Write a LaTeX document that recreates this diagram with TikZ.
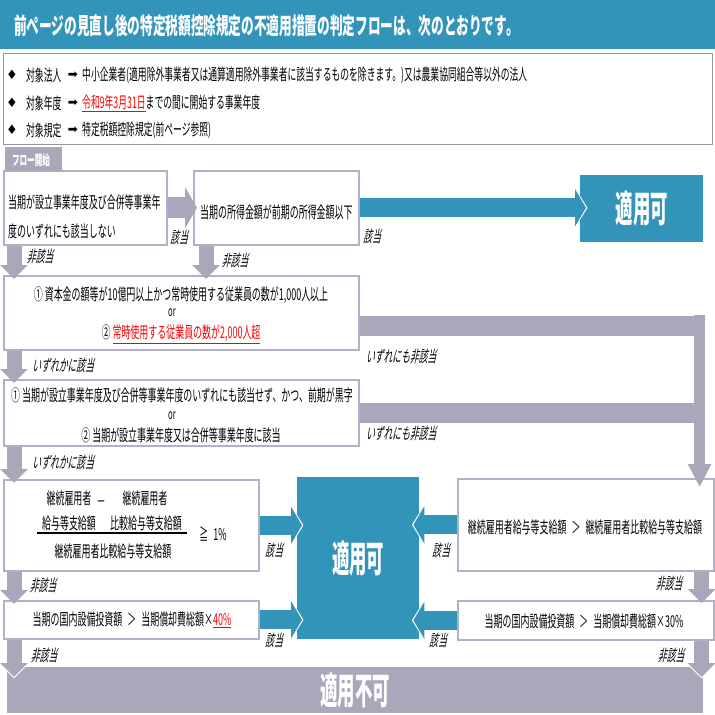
\documentclass[tikz,border=0pt]{standalone}
\usepackage{fontspec}
\setmainfont{Noto Sans CJK JP}[FakeStretch=0.55]
\newfontfamily\slantjp{Noto Sans CJK JP}[FakeStretch=0.55,FakeSlant=0.22]
\newfontfamily\widejp{Noto Sans CJK JP}[FakeStretch=0.47]
\newfontfamily\dejavu{DejaVu Sans}
\definecolor{taxblue}{RGB}{51,148,186}
\definecolor{flowgray}{RGB}{170,167,187}
\definecolor{boxgray}{RGB}{178,176,198}
\definecolor{condgray}{RGB}{150,150,158}
\usetikzlibrary{arrows.meta,calc}
\newcommand{\gtsign}{\hspace{5pt}＞\hspace{5pt}}

\begin{document}
\begin{tikzpicture}[x=1pt,y=-1pt,
  flowbox/.style={draw=boxgray,line width=1.6pt,anchor=north west,inner sep=0pt},
  okbox/.style={fill=taxblue,anchor=north west,inner sep=0pt,text=white,font=\widejp\bfseries\fontsize{37}{40}\selectfont},
  ngbox/.style={fill=flowgray,anchor=north west,inner sep=0pt,text=white,font=\widejp\bfseries\fontsize{37}{40}\selectfont},
  txt/.style={inner sep=0pt,font=\fontsize{16.3}{20}\selectfont},
  ctxt/.style={inner sep=0pt,font=\fontsize{16}{18}\selectfont},
  lbl/.style={inner sep=0pt,font=\slantjp\fontsize{16}{18}\selectfont},
  gdown/.style={draw=flowgray,line width=15pt,-{Triangle[length=14pt,width=27pt]}},
  gright/.style={draw=flowgray,line width=21pt,-{Triangle[length=12pt,width=41pt]}},
  gbar/.style={draw=flowgray,line width=20pt},
  gvert/.style={draw=flowgray,line width=11pt,-{Triangle[length=23pt,width=22pt]}},
  bright/.style={draw=taxblue,line width=19pt,-{Triangle[length=11pt,width=37pt]}},
  ghalo/.style={preaction={draw=white,line width=17pt,shorten >=-1.5pt,-{Triangle[length=16pt,width=31pt]}}},
  bhalo/.style={preaction={draw=white,line width=21pt,shorten >=-1.5pt,-{Triangle[length=13pt,width=41pt]}}}]
  \useasboundingbox (0,0) rectangle (715,715);

  %% header
  \node[fill=taxblue,anchor=north west,inner sep=0pt,minimum width=715,minimum height=49] (head) at (0,0) {};
  \node[anchor=west,inner sep=0pt,text=white,font=\bfseries\fontsize{23}{26}\selectfont] (title) at (14,26)
    {前ページの見直し後の特定税額控除規定の不適用措置の判定フローは、次のとおりです。};

  %% scope of the rule
  \node[flowbox,draw=condgray,line width=1.2pt,minimum width=709,minimum height=91] (cond) at (3,53) {};
  \foreach \y/\key/\val [count=\i] in {
      75/対象法人/{中小企業者(適用除外事業者又は通算適用除外事業者に該当するものを除きます。)又は農業協同組合等以外の法人},
      103/対象年度/{\textcolor{red}{\underline{令和9年3月31日}}までの間に開始する事業年度},
      130/対象規定/{特定税額控除規定(前ページ参照)}}{
    \node[inner sep=0pt,font=\dejavu\fontsize{13}{14}\selectfont] (bul\i) at (12,\y) {♦};
    \node[ctxt,anchor=west] (key\i) at (26,\y) {\key};
    \node[inner sep=0pt,font=\dejavu\fontsize{12}{14}\selectfont] (arw\i) at (73,\y) {➡};
    \node[ctxt,anchor=west] (val\i) at (82,\y) {\val};
  }

  %% flow boxes
  \node[flowbox,minimum width=163,minimum height=74] (boxA) at (3,170) {};
  \node[fill=flowgray,anchor=north west,inner sep=0pt,minimum width=57,minimum height=24] (tab) at (5,147) {};
  \node[inner sep=0pt,text=white,font=\bfseries\fontsize{13.8}{15}\selectfont] (tabtxt) at (31,160) {フロー開始};
  \node[flowbox,minimum width=165,minimum height=74] (boxB) at (193,170) {};
  \node[okbox,minimum width=123,minimum height=67] (okTop) at (580,175) {適用可};
  \node[flowbox,minimum width=355,minimum height=74] (boxC) at (3,275) {};
  \node[flowbox,minimum width=355,minimum height=66] (boxD) at (3,379) {};
  \node[flowbox,minimum width=255,minimum height=91] (boxE) at (3,479) {};
  \node[okbox,minimum width=122,minimum height=162] (okMid) at (297,477) {適用可};
  \node[flowbox,minimum width=256,minimum height=92] (boxF) at (457,478) {};
  \node[flowbox,minimum width=255,minimum height=38] (boxG) at (3,600) {};
  \node[flowbox,minimum width=256,minimum height=39] (boxH) at (457,600) {};
  \node[ngbox,minimum width=696,minimum height=46] (ng) at (7,667) {適用不可};

  %% box texts
  \node[txt,anchor=west,align=left,font=\fontsize{16.3}{29}\selectfont] (tA) at (8,217) {当期が設立事業年度及び合併等事業年\\度のいずれにも該当しない};
  \node[txt,anchor=west] (tB) at (200,212) {当期の所得金額が前期の所得金額以下};
  \node[txt] (tC1) at (181,295) {①\ 資本金の額等が10億円以上かつ常時使用する従業員の数が1,000人以上};
  \node[txt,font=\fontsize{14}{16}\selectfont] (tC2) at (172,313) {or};
  \node[txt] (tC3) at (181,334) {②\ \textcolor{red}{\underline{常時使用する従業員の数が2,000人超}}};
  \node[txt] (tD1) at (182,395) {①\ 当期が設立事業年度及び合併等事業年度のいずれにも該当せず、かつ、前期が黒字};
  \node[txt,font=\fontsize{14}{16}\selectfont] (tD2) at (172,416) {or};
  \node[txt] (tD3) at (181,435) {②\ 当期が設立事業年度又は合併等事業年度に該当};
  \node[txt] (eN1) at (69,498) {継続雇用者};
  \node[txt] (eN2) at (69,523) {給与等支給額};
  \node[txt] (eMinus) at (101,504) {－};
  \node[txt] (eN3) at (145,498) {継続雇用者};
  \node[txt] (eN4) at (146,523) {比較給与等支給額};
  \draw[line width=1.2pt] (37,533) -- (187,533);
  \node[txt] (eDen) at (113,551) {継続雇用者比較給与等支給額};
  \node[txt] (eRel) at (213,534) {≧\hspace{5pt}1\%};
  \node[txt] (tF) at (585,527) {継続雇用者給与等支給額\gtsign 継続雇用者比較給与等支給額};
  \node[txt] (tG) at (132,620) {当期の国内設備投資額\gtsign 当期償却費総額×\textcolor{red}{\underline{40\%}}};
  \node[txt] (tH) at (584,621) {当期の国内設備投資額\gtsign 当期償却費総額×30\%};

  %% connectors
  \draw[gright] (boxA.east) -- ($(boxB.west)+(4,0)$);
  \draw[bright,bhalo] (boxB.east) -- ($(boxB.east -| okTop.west)+(6,0)$);
  \draw[gdown] ($(boxA.south west)+(11,0)$) -- ($(boxC.north west)+(11,4)$);
  \draw[gdown] ($(boxB.south west)+(13,0)$) -- ($(boxB.south west |- boxC.north)+(13,4)$);
  \draw[gdown] ($(boxC.south west)+(11,0)$) -- ($(boxD.north west)+(11,4)$);
  \draw[gdown] ($(boxD.south west)+(11,0)$) -- ($(boxE.north west)+(11,4)$);
  \draw[gdown] ($(boxE.south west)+(11,0)$) -- ($(boxG.north west)+(11,4)$);
  \draw[gdown,ghalo] ($(boxG.south west)+(11,0)$) -- ($(boxG.south west |- ng.north)+(11,10)$);
  \draw[gdown] ($(boxF.south east)+(-13,0)$) -- ($(boxH.north east)+(-13,3)$);
  \draw[gdown,ghalo] ($(boxH.south east)+(-13,0)$) -- ($(boxH.south east |- ng.north)+(-13,10)$);
  \coordinate (jct) at ($(boxF.north east)+(-15,-163)$);
  \draw[gbar] ($(boxC.east)+(0,13)$) -- ($(jct |- boxC.east)+(5,13)$);
  \draw[gbar] (boxD.east) -- ($(jct |- boxD.east)+(5,0)$);
  \draw[gvert] (jct) -- ($(boxF.north east)+(-15,9)$);
  \draw[bright,bhalo] (boxE.east) -- ($(boxE.east -| okMid.west)+(5,0)$);
  \draw[bright,bhalo] (boxG.east) -- ($(boxG.east -| okMid.west)+(5,0)$);
  \draw[bright,bhalo] (boxF.west) -- ($(boxF.west -| okMid.east)+(-6,0)$);
  \draw[bright,bhalo] (boxH.west) -- ($(boxH.west -| okMid.east)+(-6,0)$);

  %% connector labels
  \node[lbl] (lA) at (179,237) {該当};
  \node[lbl] (lB) at (372,236) {該当};
  \node[lbl] (lAn) at (40,257) {非該当};
  \node[lbl] (lBn) at (235,261) {非該当};
  \node[lbl] (lC) at (63,365) {いずれかに該当};
  \node[lbl] (lCn) at (401,357) {いずれにも非該当};
  \node[lbl] (lD) at (63,462) {いずれかに該当};
  \node[lbl] (lDn) at (401,434) {いずれにも非該当};
  \node[lbl] (lE) at (274,550) {該当};
  \node[lbl] (lF) at (441,550) {該当};
  \node[lbl] (lEn) at (43,586) {非該当};
  \node[lbl] (lFn) at (669,584) {非該当};
  \node[lbl] (lG) at (274,640) {該当};
  \node[lbl] (lH) at (438,640) {該当};
  \node[lbl] (lGn) at (44,655) {非該当};
  \node[lbl] (lHn) at (671,655) {非該当};
\end{tikzpicture}
\end{document}
